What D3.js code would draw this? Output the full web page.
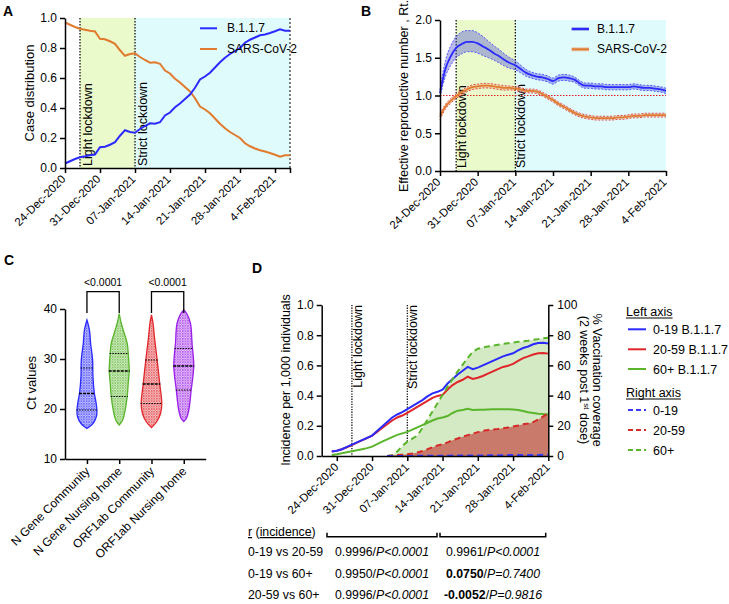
<!DOCTYPE html>
<html><head><meta charset="utf-8">
<script src="https://cdn.jsdelivr.net/npm/d3@7"></script>
<style>
body{margin:0;background:#fff;}
svg text{font-family:"Liberation Sans",Arial,sans-serif;fill:#000;}
</style></head><body>
<svg id="c" width="729" height="604"></svg>
<script>
// ---------------- DATA ----------------
const dateLabels = ["24-Dec-2020","31-Dec-2020","07-Jan-2021","14-Jan-2021","21-Jan-2021","28-Jan-2021","4-Feb-2021"];
const dateTickDays = [0,7,14,21,28,35,42];
const lightLockdownDay = 3;
const strictLockdownDay = 14;

// Panel A: case distribution, days 0..45 from 24-Dec-2020
const caseB117 = [0.03,0.045,0.06,0.072,0.078,0.085,0.09,0.138,0.142,0.155,0.172,0.215,0.252,0.24,0.235,0.26,0.28,0.298,0.295,0.305,0.35,0.37,0.405,0.43,0.46,0.49,0.535,0.59,0.61,0.635,0.67,0.705,0.735,0.76,0.78,0.8,0.835,0.855,0.87,0.885,0.89,0.9,0.912,0.925,0.915,0.915];
const caseSARS = [0.97,0.955,0.94,0.928,0.922,0.915,0.91,0.862,0.858,0.845,0.828,0.785,0.748,0.76,0.765,0.74,0.72,0.702,0.705,0.695,0.65,0.63,0.595,0.57,0.54,0.51,0.465,0.41,0.39,0.365,0.33,0.295,0.265,0.24,0.22,0.2,0.165,0.145,0.13,0.118,0.11,0.1,0.088,0.075,0.085,0.085];

// Panel B: Rt, days 0..42
const rtB117 = [1.03,1.35,1.52,1.63,1.68,1.71,1.71,1.69,1.65,1.61,1.56,1.52,1.47,1.43,1.40,1.35,1.30,1.27,1.25,1.24,1.22,1.19,1.23,1.24,1.23,1.21,1.16,1.13,1.13,1.12,1.12,1.11,1.11,1.11,1.11,1.11,1.12,1.11,1.10,1.10,1.09,1.08,1.06];
const rtB117Hi = [1.08,1.46,1.66,1.78,1.84,1.86,1.86,1.83,1.78,1.72,1.66,1.61,1.55,1.50,1.46,1.40,1.345,1.31,1.29,1.28,1.26,1.23,1.27,1.28,1.27,1.245,1.195,1.165,1.165,1.155,1.155,1.145,1.145,1.145,1.145,1.145,1.155,1.145,1.135,1.135,1.125,1.115,1.095];
const rtB117Lo = [0.98,1.25,1.40,1.50,1.55,1.58,1.58,1.56,1.53,1.50,1.47,1.43,1.39,1.36,1.34,1.30,1.255,1.23,1.21,1.20,1.18,1.15,1.19,1.20,1.19,1.175,1.125,1.095,1.095,1.085,1.085,1.075,1.075,1.075,1.075,1.075,1.085,1.075,1.065,1.065,1.055,1.045,1.025];
const rtSARS = [0.72,0.85,0.93,0.99,1.04,1.08,1.11,1.12,1.13,1.13,1.12,1.11,1.10,1.10,1.09,1.08,1.06,1.06,1.05,1.02,0.98,0.94,0.89,0.85,0.81,0.77,0.74,0.72,0.71,0.70,0.70,0.70,0.70,0.71,0.71,0.72,0.73,0.73,0.74,0.74,0.74,0.74,0.74];
const rtSARSHi = [0.76,0.88,0.96,1.02,1.07,1.11,1.14,1.15,1.16,1.16,1.15,1.14,1.13,1.125,1.115,1.105,1.085,1.085,1.075,1.045,1.005,0.965,0.915,0.875,0.835,0.795,0.765,0.745,0.735,0.725,0.725,0.725,0.725,0.735,0.735,0.745,0.755,0.755,0.765,0.765,0.765,0.765,0.765];
const rtSARSLo = [0.68,0.82,0.90,0.96,1.01,1.05,1.08,1.09,1.10,1.10,1.09,1.08,1.07,1.075,1.065,1.055,1.035,1.035,1.025,0.995,0.955,0.915,0.865,0.825,0.785,0.745,0.715,0.695,0.685,0.675,0.675,0.675,0.675,0.685,0.685,0.695,0.705,0.705,0.715,0.715,0.715,0.715,0.715];
const rtThreshold = 1.0;

// Panel C: Ct value violins  [Ct, relative density]
const ctGroups = ["N Gene Community","N Gene Nursing home","ORF1ab Community","ORF1ab Nursing home"];
const violinNCommunity = [[16.1,0],[17.1,0.57],[18.5,0.9],[19.8,0.95],[21.5,0.85],[23.1,0.71],[26.5,0.57],[29.8,0.54],[33.1,0.35],[35.8,0.24],[37.8,0]];
const violinNNursing = [[16.8,0],[17.8,0.33],[19.8,0.57],[22.5,0.76],[25.2,0.86],[27.6,0.95],[31.1,0.86],[33.1,0.76],[35.8,0.38],[37.1,0.2],[39.1,0]];
const violinORFCommunity = [[16.3,0],[17.4,0.48],[19.1,0.86],[21.1,0.98],[25.0,0.79],[29.8,0.54],[34.4,0.28],[37.1,0.15],[38.8,0]];
const violinORFNursing = [[17.5,0],[18.1,0.24],[19.8,0.48],[23.8,0.71],[28.6,0.95],[33.1,0.79],[37.1,0.64],[39.1,0.28],[39.8,0]];
const ctMedian = [23.1,27.6,25.0,28.6];
const ctQ1 = [19.8,22.5,21.1,23.8];
const ctQ3 = [28.2,31.1,29.8,32.1];
const ctPValues = ["<0.0001","<0.0001"];

// Panel D: incidence per 1,000 (days -1..42) and vaccination coverage (days 10..42)
const incDays = d3.range(-1,43);
const inc0to19 = [0.03,0.035,0.045,0.06,0.075,0.09,0.105,0.12,0.135,0.165,0.195,0.225,0.255,0.275,0.29,0.31,0.33,0.35,0.37,0.395,0.415,0.425,0.44,0.48,0.51,0.54,0.565,0.59,0.575,0.585,0.6,0.615,0.63,0.645,0.66,0.67,0.68,0.7,0.715,0.725,0.74,0.748,0.75,0.745];
const inc20to59 = [0.03,0.035,0.045,0.058,0.072,0.088,0.103,0.118,0.135,0.16,0.185,0.21,0.235,0.255,0.268,0.285,0.305,0.325,0.345,0.365,0.385,0.398,0.405,0.44,0.47,0.49,0.505,0.525,0.51,0.518,0.53,0.545,0.56,0.575,0.59,0.598,0.61,0.63,0.648,0.66,0.672,0.68,0.682,0.678];
const inc60plus = [0.007,0.012,0.018,0.025,0.032,0.038,0.045,0.052,0.062,0.078,0.095,0.11,0.125,0.14,0.15,0.16,0.175,0.19,0.205,0.22,0.235,0.248,0.255,0.265,0.285,0.3,0.305,0.313,0.305,0.306,0.307,0.308,0.309,0.31,0.31,0.31,0.308,0.305,0.298,0.29,0.285,0.28,0.278,0.277];
const vacDays = d3.range(10,43);
const vac0to19 = [0,0,0,0,0,0,0.1,0.1,0.1,0.2,0.2,0.2,0.2,0.3,0.3,0.3,0.3,0.4,0.4,0.4,0.5,0.5,0.5,0.5,0.6,0.6,0.6,0.6,0.7,0.7,0.7,0.8,0.8];
const vac20to59 = [0,0.3,0.6,0.9,1.2,1.6,2.3,3.3,4.5,5.8,7,7.8,9,10.5,11.6,12.8,13.8,14.8,15.8,16.6,17.2,17.6,17.9,18.3,18.8,19.5,20.2,21,21.5,22.5,24.2,26.2,28.3];
const vac60plus = [0,0.5,3,6.5,9.5,11.5,13.5,18.5,24,29.5,35,40.5,46,51,56,60.5,65,69,71,71.8,72.5,73.1,73.7,74.2,74.7,75.2,75.6,76,76.4,76.9,77.4,77.9,78.3];

// correlation table
const corrRows = ["0-19 vs 20-59","0-19 vs 60+","20-59 vs 60+"];
const corrR1 = ["0.9996","0.9950","0.9996"];
const corrP1 = ["P<0.0001","P<0.0001","P<0.0001"];
const corrR2 = ["0.9961","0.0750","-0.0052"];
const corrP2 = ["P<0.0001","P=0.7400","P=0.9816"];
const corrBold2 = [false,true,true];

// ---------------- STYLE ----------------
const FONT = "Liberation Sans, Arial, sans-serif";
const BLUE = "#2b2bff", ORANGE = "#e07a2e", RED = "#e0262a", GREEN = "#5ab52c", PURPLE = "#9b1fe8";
const LIME_BG = "#ebfacb", CYAN_BG = "#e0fbfb";
const svg = d3.select("#c");
const defs = svg.append("defs");

function styleAxis(g, fs){
  g.attr("font-family", FONT).attr("font-size", fs||11);
  g.selectAll("path,line").attr("stroke","#000").attr("stroke-width",1.5);
  g.selectAll("text").attr("fill","#000");
}
function rotLabels(g, dx, dy){
  g.selectAll(".tick text").attr("x",0).attr("y",0).attr("dy","0.35em")
    .attr("transform",`translate(${dx},${dy}) rotate(-45)`).style("text-anchor","end");
}
function panelLabel(t,x,y){
  svg.append("text").attr("x",x).attr("y",y).text(t).attr("font-size",14).attr("font-weight","bold");
}
function rotText(t,x,y,angle,anchor,fs){
  return svg.append("text").attr("transform",`translate(${x},${y}) rotate(${angle})`)
    .attr("text-anchor",anchor).attr("font-size",fs).text(t);
}

// ---------------- PANEL A ----------------
panelLabel("A",3,16);
const xA = d3.scaleLinear().domain([0,45]).range([65,290]);
const yA = d3.scaleLinear().domain([0,1]).range([168,18]);
svg.append("rect").attr("x",xA(lightLockdownDay)).attr("y",yA(1)).attr("width",xA(strictLockdownDay)-xA(lightLockdownDay)).attr("height",yA(0)-yA(1)).attr("fill",LIME_BG);
svg.append("rect").attr("x",xA(strictLockdownDay)).attr("y",yA(1)).attr("width",xA(45)-xA(strictLockdownDay)).attr("height",yA(0)-yA(1)).attr("fill",CYAN_BG);
[lightLockdownDay,strictLockdownDay].forEach(d=>{
  svg.append("line").attr("x1",xA(d)).attr("x2",xA(d)).attr("y1",yA(1)).attr("y2",yA(0)).attr("stroke","#000").attr("stroke-width",1.2).attr("stroke-dasharray","1.5,1.5");
});
svg.append("line").attr("x1",xA(45)).attr("x2",xA(45)).attr("y1",yA(1)).attr("y2",yA(0)).attr("stroke","#555").attr("stroke-width",1.5).attr("stroke-dasharray","2,2");
rotText("Light lockdown",xA(lightLockdownDay)+12,166,-90,"start",12.5);
rotText("Strict lockdown",xA(strictLockdownDay)+12,166,-90,"start",12.5);
const lineA = d3.line().x((d,i)=>xA(i)).y(d=>yA(d));
svg.append("path").datum(caseSARS).attr("d",lineA).attr("fill","none").attr("stroke",ORANGE).attr("stroke-width",2);
svg.append("path").datum(caseB117).attr("d",lineA).attr("fill","none").attr("stroke",BLUE).attr("stroke-width",2);
svg.append("g").attr("transform",`translate(${xA(0)},0)`).call(d3.axisLeft(yA).tickValues([0,0.2,0.4,0.6,0.8,1.0]).tickFormat(d3.format(".1f")).tickSize(5).tickPadding(3).tickSizeOuter(0)).call(styleAxis,12);
const gxA = svg.append("g").attr("transform",`translate(0,${yA(0)})`).call(d3.axisBottom(xA).tickValues(dateTickDays.concat([45])).tickFormat((d,i)=>dateLabels[i]||"").tickSize(5).tickSizeOuter(0)).call(styleAxis,11.5);
rotLabels(gxA,-2,9);
rotText("Case distribution",34,93,-90,"middle",13);
[["B.1.1.7",BLUE,28.3],["SARS-CoV-2",ORANGE,49]].forEach(([n,c,y])=>{
  svg.append("line").attr("x1",200).attr("x2",217).attr("y1",y).attr("y2",y).attr("stroke",c).attr("stroke-width",2);
  svg.append("text").attr("x",227).attr("y",y+4).attr("font-size",12).text(n);
});

// ---------------- PANEL B ----------------
panelLabel("B",361,16);
const xB = d3.scaleLinear().domain([0,42]).range([440,666]);
const yB = d3.scaleLinear().domain([0,2]).range([171,20]);
svg.append("rect").attr("x",xB(lightLockdownDay)).attr("y",yB(2)).attr("width",xB(strictLockdownDay)-xB(lightLockdownDay)).attr("height",yB(0)-yB(2)).attr("fill",LIME_BG);
svg.append("rect").attr("x",xB(strictLockdownDay)).attr("y",yB(2)).attr("width",xB(42)-xB(strictLockdownDay)).attr("height",yB(0)-yB(2)).attr("fill",CYAN_BG);
[lightLockdownDay,strictLockdownDay].forEach(d=>{
  svg.append("line").attr("x1",xB(d)).attr("x2",xB(d)).attr("y1",yB(2)).attr("y2",yB(0)).attr("stroke","#000").attr("stroke-width",1.2).attr("stroke-dasharray","1.5,1.5");
});
svg.append("line").attr("x1",xB(0)).attr("x2",xB(42)).attr("y1",yB(rtThreshold)).attr("y2",yB(rtThreshold)).attr("stroke","#e02020").attr("stroke-width",1.2).attr("stroke-dasharray","1.5,1.5");
rotText("Light lockdown",xB(lightLockdownDay)+10,168,-90,"start",12.5);
rotText("Strict lockdown",xB(strictLockdownDay)+10,168,-90,"start",12.5);
function bandB(mean,hi,lo,fill,edge,line){
  const area = d3.area().x((d,i)=>xB(i)).y0((d,i)=>yB(lo[i])).y1(d=>yB(d)).curve(d3.curveMonotoneX);
  svg.append("path").datum(hi).attr("d",area).attr("fill",fill);
  const ln = d3.line().x((d,i)=>xB(i)).y(d=>yB(d)).curve(d3.curveMonotoneX);
  [hi,lo].forEach(a=>svg.append("path").datum(a).attr("d",ln).attr("fill","none").attr("stroke",edge).attr("stroke-width",0.9).attr("stroke-dasharray","2,1.5"));
  svg.append("path").datum(mean).attr("d",ln).attr("fill","none").attr("stroke",line).attr("stroke-width",1.8);
}
bandB(rtSARS,rtSARSHi,rtSARSLo,"rgba(240,150,100,0.35)","#e03a3a",ORANGE);
bandB(rtB117,rtB117Hi,rtB117Lo,"rgba(70,70,210,0.38)","#4a4aff",BLUE);
svg.append("g").attr("transform",`translate(${xB(0)},0)`).call(d3.axisLeft(yB).tickValues([0,0.5,1,1.5,2]).tickFormat(d3.format(".1f")).tickSize(5).tickPadding(3).tickSizeOuter(0)).call(styleAxis,12);
const gxB = svg.append("g").attr("transform",`translate(0,${yB(0)})`).call(d3.axisBottom(xB).tickValues(dateTickDays).tickFormat((d,i)=>dateLabels[i]).tickSize(5).tickSizeOuter(0)).call(styleAxis,11.5);
rotLabels(gxB,-2,9);
rotText("Effective reproductive number , Rt.",408,96,-90,"middle",12.5);
[["B.1.1.7",BLUE,"rgba(70,70,210,0.38)",29],["SARS-CoV-2",ORANGE,"rgba(240,150,100,0.5)",49.3]].forEach(([n,c,f,y])=>{
  svg.append("rect").attr("x",571.7).attr("y",y-2).attr("width",17.3).attr("height",4).attr("fill",f);
  svg.append("line").attr("x1",571.7).attr("x2",589).attr("y1",y).attr("y2",y).attr("stroke",c).attr("stroke-width",2);
  svg.append("text").attr("x",597).attr("y",y+4).attr("font-size",12).text(n);
});

// ---------------- PANEL C ----------------
panelLabel("C",4,265);
const xC = d3.scalePoint().domain(ctGroups).range([65,205.7]).padding(0.68);
const yC = d3.scaleLinear().domain([10,40]).range([459,309]);
const violinData = [violinNCommunity,violinNNursing,violinORFCommunity,violinORFNursing];
const violinColors = [BLUE,GREEN,RED,PURPLE];
const wC = d3.scaleLinear().domain([0,1]).range([0,10.5]);
violinColors.forEach((c,i)=>{
  const p = defs.append("pattern").attr("id","dots"+i).attr("width",2.6).attr("height",2.6).attr("patternUnits","userSpaceOnUse");
  p.append("rect").attr("width",2.6).attr("height",2.6).attr("fill",c).attr("opacity",0.22);
  p.append("circle").attr("cx",0.8).attr("cy",0.8).attr("r",0.8).attr("fill",c).attr("opacity",0.95);
  p.append("circle").attr("cx",2.1).attr("cy",2.0).attr("r",0.5).attr("fill",c).attr("opacity",0.7);
});
violinData.forEach((prof,i)=>{
  const cx = xC(ctGroups[i]);
  const area = d3.area().y(d=>yC(d[0])).x0(d=>cx-wC(d[1])).x1(d=>cx+wC(d[1])).curve(d3.curveCatmullRom);
  svg.append("path").datum(prof).attr("d",area).attr("fill",`url(#dots${i})`).attr("stroke",violinColors[i]).attr("stroke-width",1.3);
  const dens = d3.scaleLinear().domain(prof.map(d=>d[0])).range(prof.map(d=>d[1]));
  [[ctQ1[i],"1.5,1.2",1.1],[ctQ3[i],"1.5,1.2",1.1],[ctMedian[i],"3,1",1.6]].forEach(([v,da,sw])=>{
    const hw = wC(dens(v))+0.5;
    svg.append("line").attr("x1",cx-hw).attr("x2",cx+hw).attr("y1",yC(v)).attr("y2",yC(v)).attr("stroke","#000").attr("stroke-width",sw).attr("stroke-dasharray",da);
  });
});
svg.append("g").attr("transform",`translate(65,0)`).call(d3.axisLeft(yC).tickValues([10,20,30,40]).tickSize(5).tickPadding(3).tickSizeOuter(0)).call(styleAxis,12);
const gxC = svg.append("g").attr("transform",`translate(0,459)`).call(d3.axisBottom(xC).tickSize(5).tickSizeOuter(0)).call(styleAxis,12);
rotLabels(gxC,0,10);
rotText("Ct values",36,383,-90,"middle",13);
[[0,1],[2,3]].forEach(([a,b],k)=>{
  const x1 = xC(ctGroups[a]), x2 = xC(ctGroups[b]);
  svg.append("path").attr("d",`M${x1},313V291.7H${x2}V313`).attr("fill","none").attr("stroke","#000").attr("stroke-width",1.3);
  svg.append("text").attr("x",(x1+x2)/2).attr("y",286).attr("text-anchor","middle").attr("font-size",10.5).text(ctPValues[k]);
});

// ---------------- PANEL D ----------------
panelLabel("D",252,273);
const xD = d3.scaleLinear().domain([-3,42]).range([321.7,548.3]);
const yDL = d3.scaleLinear().domain([0,1]).range([456,305]);
const yDR = d3.scaleLinear().domain([0,100]).range([456,305]);
[lightLockdownDay,strictLockdownDay].forEach(d=>{
  svg.append("line").attr("x1",xD(d)).attr("x2",xD(d)).attr("y1",305).attr("y2",456).attr("stroke","#000").attr("stroke-width",1.2).attr("stroke-dasharray","1.3,1.3");
});
rotText("Light lockdown",xD(lightLockdownDay)+10.5,305,-90,"end",12.5);
rotText("Strict lockdown",xD(strictLockdownDay)+10,305,-90,"end",12.5);
const areaVac = d3.area().x((d,i)=>xD(vacDays[i])).y0(yDR(0)).y1(d=>yDR(d));
svg.append("path").datum(vac60plus).attr("d",areaVac).attr("fill","#d4eac4");
svg.append("path").datum(vac20to59).attr("d",areaVac).attr("fill","#c97a6b");
const lineInc = d3.line().x((d,i)=>xD(incDays[i])).y(d=>yDL(d));
const lineVac = d3.line().x((d,i)=>xD(vacDays[i])).y(d=>yDR(d));
[[inc60plus,GREEN],[inc20to59,RED],[inc0to19,BLUE]].forEach(([a,c])=>{
  svg.append("path").datum(a).attr("d",lineInc).attr("fill","none").attr("stroke",c).attr("stroke-width",2);
});
[[vac60plus,GREEN],[vac20to59,"#d42a2a"],[vac0to19,"#3a3aff"]].forEach(([a,c])=>{
  svg.append("path").datum(a).attr("d",lineVac).attr("fill","none").attr("stroke",c).attr("stroke-width",2).attr("stroke-dasharray","6,4");
});
svg.append("g").attr("transform",`translate(${xD(-3)},0)`).call(d3.axisLeft(yDL).tickValues([0,0.2,0.4,0.6,0.8,1]).tickFormat(d3.format(".1f")).tickSize(5).tickPadding(3).tickSizeOuter(0)).call(styleAxis,12);
svg.append("g").attr("transform",`translate(${xD(42)},0)`).call(d3.axisRight(yDR).tickValues([0,20,40,60,80,100]).tickSize(5).tickPadding(4).tickSizeOuter(0)).call(styleAxis,12);
const gxD = svg.append("g").attr("transform",`translate(0,456)`).call(d3.axisBottom(xD).tickValues(dateTickDays).tickFormat((d,i)=>dateLabels[i]).tickSize(5).tickSizeOuter(0)).call(styleAxis,11.5);
rotLabels(gxD,-1,9);
rotText("Incidence per 1,000 individuals",290,380,-90,"middle",12.5);
rotText("% Vaccination coverage",593,380,90,"middle",12.5);
const t2 = svg.append("text").attr("transform",`translate(580,380) rotate(90)`).attr("text-anchor","middle").attr("font-size",12.5);
t2.append("tspan").text("(2 weeks post 1");
t2.append("tspan").attr("dy",-4).attr("font-size",8).text("st");
t2.append("tspan").attr("dy",4).text(" dose)");

// legend D
function ulText(t,x,y){
  const el = svg.append("text").attr("x",x).attr("y",y).attr("font-size",12.5).text(t);
  const w = el.node().getComputedTextLength();
  svg.append("line").attr("x1",x).attr("x2",x+w).attr("y1",y+2).attr("y2",y+2).attr("stroke","#000").attr("stroke-width",1);
}
ulText("Left axis",626,316);
ulText("Right axis",626,397);
const legD = [["0-19 B.1.1.7",BLUE,null,329.3],["20-59 B.1.1.7",RED,null,349.3],["60+ B.1.1.7",GREEN,null,369],
              ["0-19","#3a3aff","5,3",410],["20-59","#d42a2a","5,3",430],["60+",GREEN,"5,3",450]];
legD.forEach(([n,c,da,y])=>{
  svg.append("line").attr("x1",628).attr("x2",646).attr("y1",y).attr("y2",y).attr("stroke",c).attr("stroke-width",2).attr("stroke-dasharray",da);
  svg.append("text").attr("x",653).attr("y",y+4.5).attr("font-size",12.5).text(n);
});

// ---------------- TABLE ----------------
const th = svg.append("text").attr("x",248).attr("y",536).attr("font-size",12.3);
th.append("tspan").style("text-decoration","underline").text("r");
th.append("tspan").text(" (");
th.append("tspan").style("text-decoration","underline").text("incidence");
th.append("tspan").text(")");
[[327,437],[440,545.7]].forEach(([a,b])=>{
  svg.append("path").attr("d",`M${a},532.7V536.7H${b}V532.7`).attr("fill","none").attr("stroke","#000").attr("stroke-width",1.5);
});
const rowY = [556,577.5,598.5];
corrRows.forEach((r,i)=>{
  svg.append("text").attr("x",248).attr("y",rowY[i]).attr("font-size",12.3).text(r);
  const c1 = svg.append("text").attr("x",382).attr("y",rowY[i]).attr("text-anchor","middle").attr("font-size",12.3);
  c1.append("tspan").text(corrR1[i]+"/");
  c1.append("tspan").attr("font-style","italic").text(corrP1[i]);
  const c2 = svg.append("text").attr("x",493).attr("y",rowY[i]).attr("text-anchor","middle").attr("font-size",12.3);
  c2.append("tspan").attr("font-weight",corrBold2[i]?"bold":"normal").text(corrR2[i]);
  c2.append("tspan").text("/");
  c2.append("tspan").attr("font-style","italic").text(corrP2[i]);
});
</script>
</body></html>
